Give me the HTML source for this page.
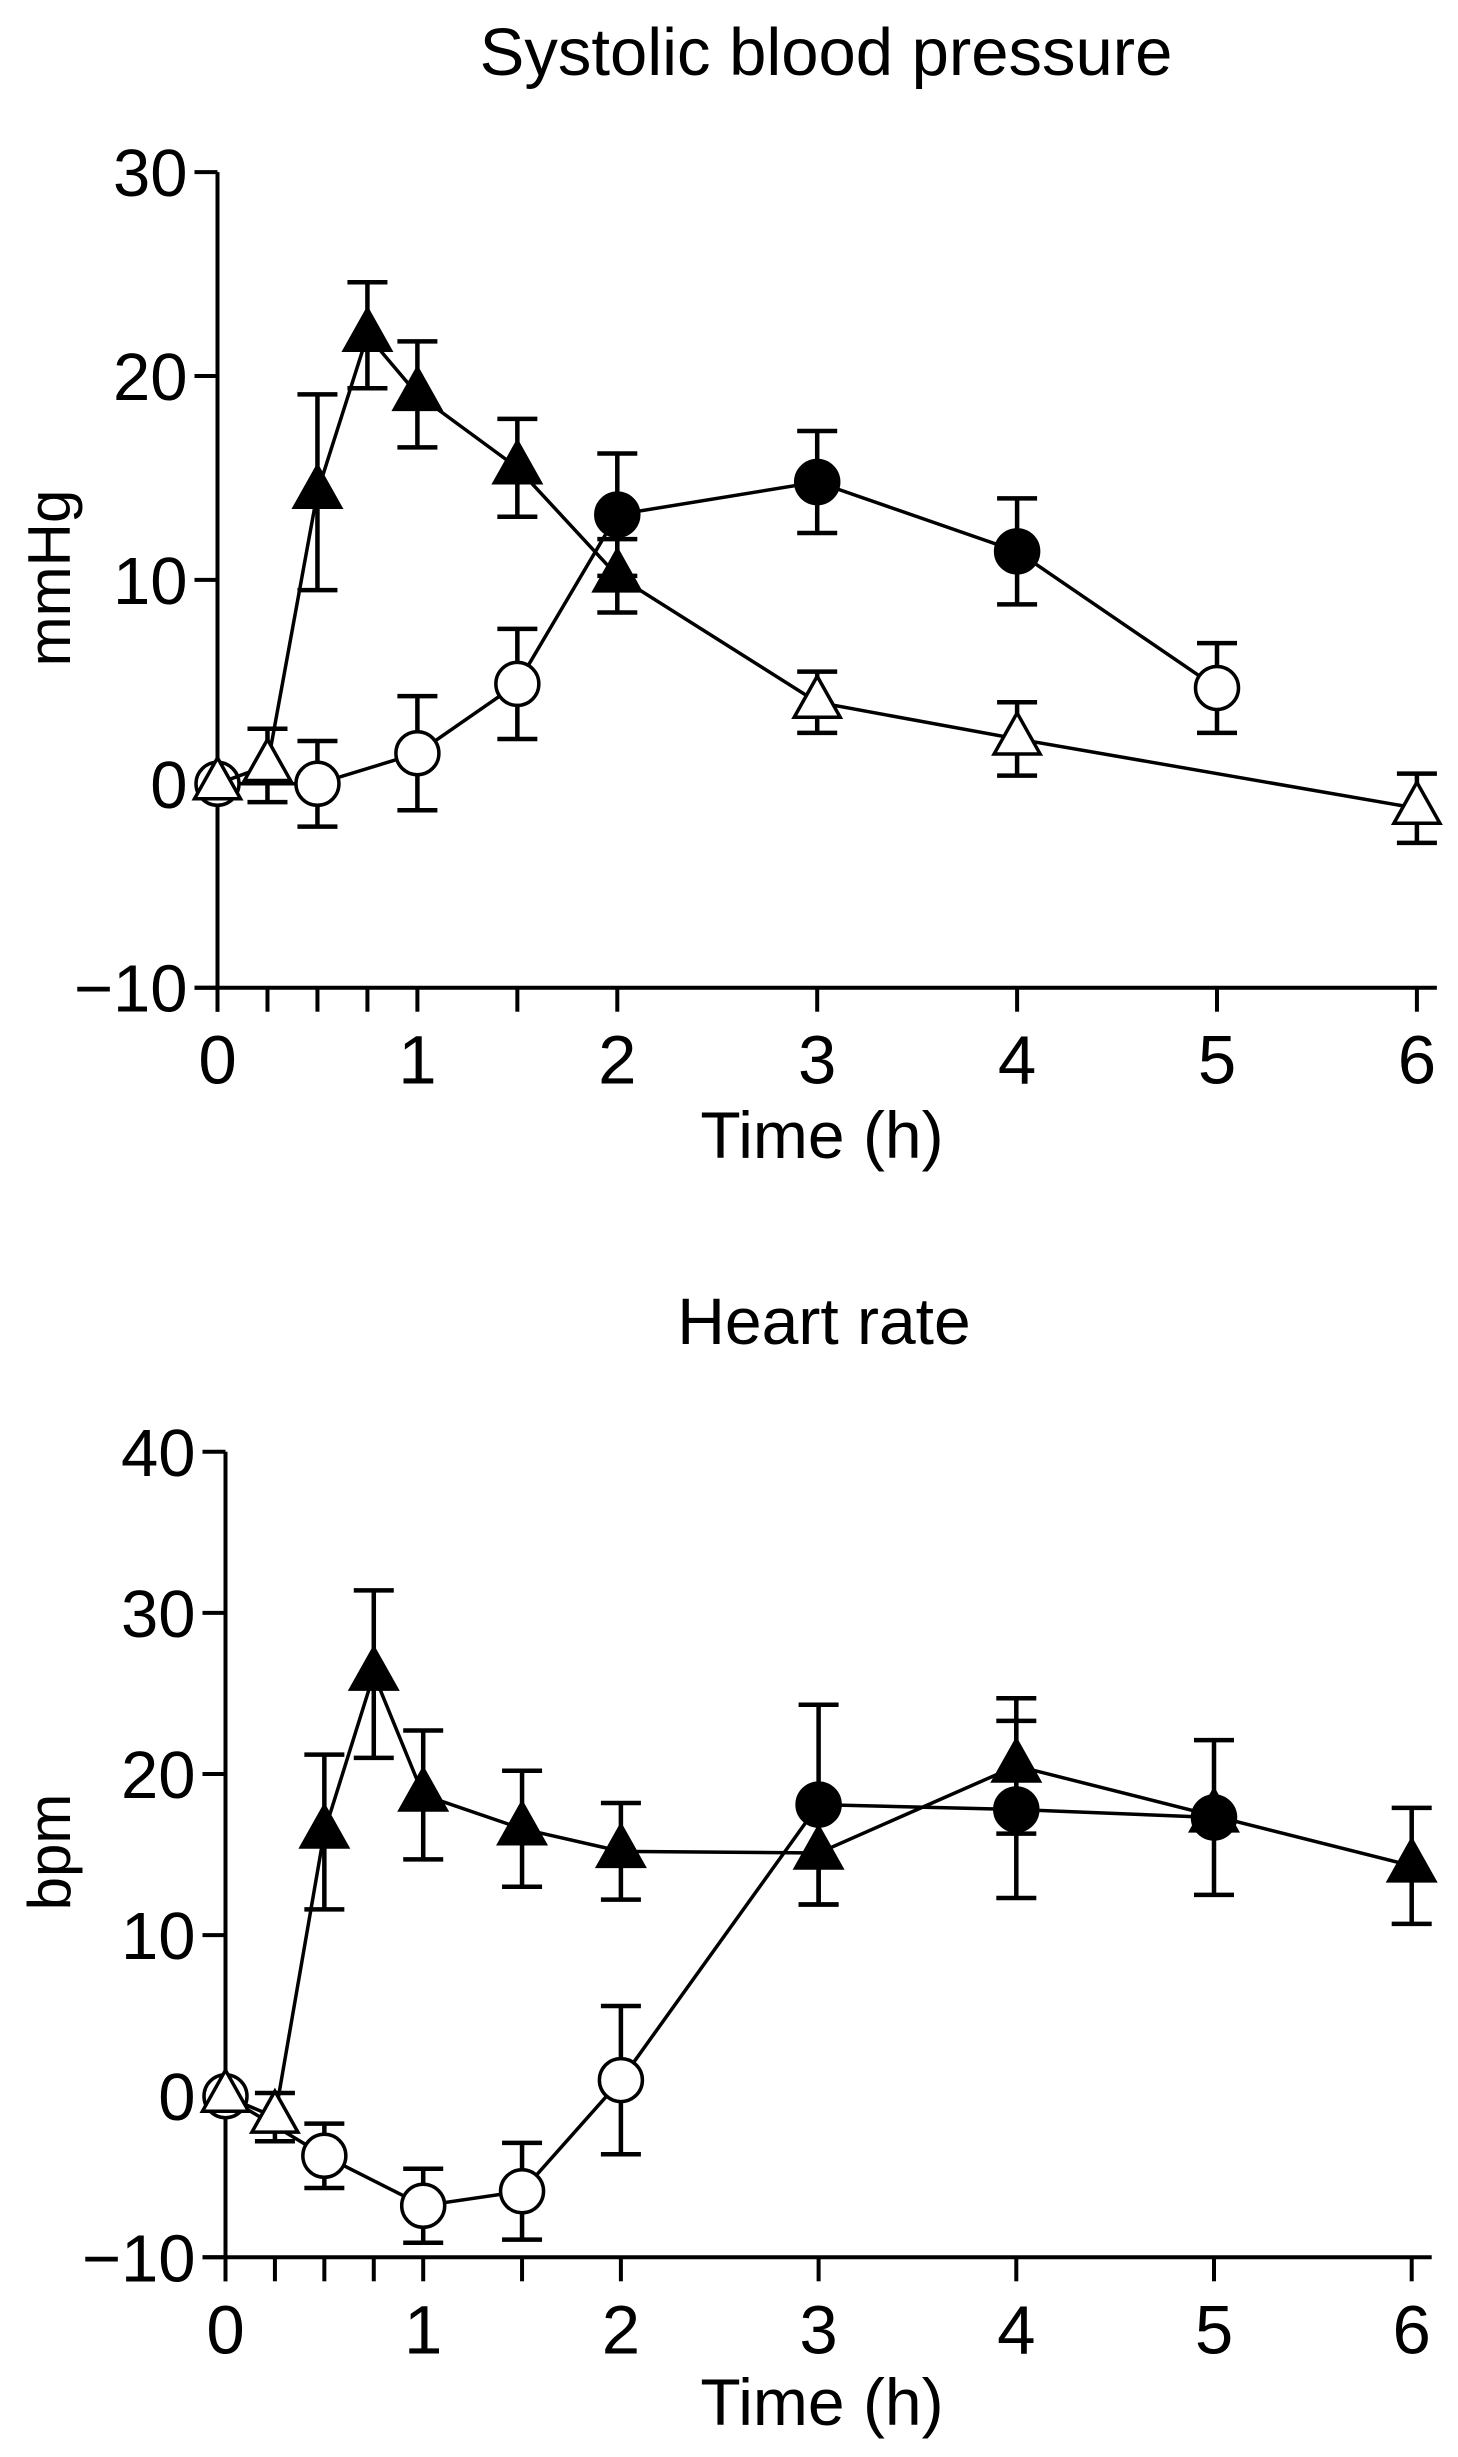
<!DOCTYPE html>
<html><head><meta charset="utf-8"><style>
html,body{margin:0;padding:0;background:#fff;}
svg{display:block;font-family:"Liberation Sans",Arial,sans-serif;}
</style></head><body>
<svg id="fig" width="1458" height="2457" viewBox="0 0 1458 2457">
<text x="826" y="75" font-size="67" text-anchor="middle">Systolic blood pressure</text>
<text x="824" y="1344" font-size="66" text-anchor="middle">Heart rate</text>
<text x="822" y="1158" font-size="66" text-anchor="middle">Time (h)</text>
<text x="822" y="2425" font-size="66" text-anchor="middle">Time (h)</text>
<text transform="translate(70,578) rotate(-90)" font-size="60" text-anchor="middle">mmHg</text>
<text transform="translate(70,1852) rotate(-90)" font-size="60" text-anchor="middle">bpm</text>
<g id="top"></g>
<g id="bot"></g>
</svg>
<script>
// ---- Systolic blood pressure data ----
const sbpCircTimes = [0, 0.5, 1, 1.5, 2, 3, 4, 5];
const sbpCircVals  = [0, 0, 1.5, 4.9, 13.2, 14.8, 11.4, 4.7];
const sbpCircErr   = [0, 2.1, 2.8, 2.7, 3.0, 2.5, 2.6, 2.2];
const sbpCircFill  = [0, 0, 0, 0, 1, 1, 1, 0];
const sbpTriTimes  = [0, 0.25, 0.5, 0.75, 1, 1.5, 2, 3, 4, 6];
const sbpTriVals   = [0, 0.9, 14.3, 22.0, 19.1, 15.5, 10.2, 4.0, 2.2, -1.2];
const sbpTriErr    = [0, 1.8, 4.8, 2.6, 2.6, 2.4, 1.8, 1.5, 1.8, 1.7];
const sbpTriFill   = [0, 0, 1, 1, 1, 1, 1, 0, 0, 0];
const sbpYTicks    = [30, 20, 10, 0, -10];
// ---- Heart rate data ----
const hrCircTimes = [0, 0.5, 1, 1.5, 2, 3, 4, 5];
const hrCircVals  = [0, -3.7, -6.8, -5.9, 1.0, 18.1, 17.8, 17.3];
const hrCircErr   = [0, 2.0, 2.3, 3.0, 4.6, 6.2, 5.5, 4.8];
const hrCircFill  = [0, 0, 0, 0, 0, 1, 1, 1];
const hrTriTimes  = [0, 0.25, 0.5, 0.75, 1, 1.5, 2, 3, 4, 5, 6];
const hrTriVals   = [0, -1.3, 16.4, 26.2, 18.7, 16.6, 15.2, 15.1, 20.5, 17.4, 14.3];
const hrTriErr    = [0, 1.5, 4.8, 5.2, 4.0, 3.6, 3.0, 3.2, 4.2, 0, 3.6];
const hrTriFill   = [0, 0, 1, 1, 1, 1, 1, 1, 1, 1, 1];
const hrYTicks    = [40, 30, 20, 10, 0, -10];
const xTickVals   = [0, 0.25, 0.5, 0.75, 1, 1.5, 2, 3, 4, 5, 6];
const xLabelVals  = [0, 1, 2, 3, 4, 5, 6];

const NS = 'http://www.w3.org/2000/svg';
function mk(parent, tag, attrs) {
  const e = document.createElementNS(NS, tag);
  for (const k in attrs) e.setAttribute(k, attrs[k]);
  parent.appendChild(e);
  return e;
}
function drawChart(g, cfg) {
  const xs = t => cfg.x0 + t * cfg.xs;
  const ys = v => cfg.yBase - (v - cfg.ymin) * cfg.yk;
  const yTop = ys(cfg.ymax), yBot = ys(cfg.ymin);
  let a = mk(g, 'line', {x1: xs(0), y1: yTop, x2: xs(0), y2: yBot + 24, stroke: '#000', 'stroke-width': 4});
  
  
  a = mk(g, 'line', {x1: xs(0) - 23, y1: yBot, x2: xs(6) + 20, y2: yBot, stroke: '#000', 'stroke-width': 4});
  
  
  cfg.yTicks.forEach(v => {
    const t = mk(g, 'line', {x1: xs(0) - 23, y1: ys(v), x2: xs(0), y2: ys(v), stroke: '#000', 'stroke-width': 4});
    
    
    const l = mk(g, 'text', {x: xs(0) - 30, y: ys(v) + 24, 'font-size': 67, 'text-anchor': 'end'});
    l.textContent = v < 0 ? '\u2212' + Math.abs(v) : String(v);
    
    
  });
  xTickVals.forEach(v => {
    const t = mk(g, 'line', {x1: xs(v), y1: yBot, x2: xs(v), y2: yBot + 24, stroke: '#000', 'stroke-width': 4});
    
    
  });
  xLabelVals.forEach(v => {
    const l = mk(g, 'text', {x: xs(v), y: yBot + 96, 'font-size': 69, 'text-anchor': 'middle'});
    l.textContent = String(v);
    
    
  });
  function series(times, vals, errs, fills, kind) {
    const pts = times.map((t, i) => xs(t) + ',' + ys(vals[i])).join(' ');
    const pl = mk(g, 'polyline', {points: pts, fill: 'none', stroke: '#000', 'stroke-width': 3.5});
    
    
    times.forEach((t, i) => {
      const x = xs(t), y = ys(vals[i]), e = errs[i] * cfg.yk;
      if (errs[i] > 0) {
        const eb = mk(g, 'path', {d: `M${x},${y - e}V${y + e}M${x - 20},${y - e}H${x + 20}M${x - 20},${y + e}H${x + 20}`, stroke: '#000', 'stroke-width': 4.5, fill: 'none'});
        
        
      }
    });
    times.forEach((t, i) => {
      const x = xs(t), y = ys(vals[i]);
      const col = fills[i] ? '#000' : '#fff';
      let m;
      if (kind === 'circle') {
        m = mk(g, 'circle', {cx: x, cy: y, r: 21.5, fill: col, stroke: '#000', 'stroke-width': 3.5});
      } else {
        m = mk(g, 'polygon', {points: `${x},${y - 26} ${x - 23},${y + 15} ${x + 23},${y + 15}`, fill: col, stroke: '#000', 'stroke-width': 3.5});
      }
      
      
    });
  }
  series(cfg.cT, cfg.cV, cfg.cE, cfg.cF, 'circle');
  series(cfg.tT, cfg.tV, cfg.tE, cfg.tF, 'triangle');
}
drawChart(document.getElementById('top'), {
  x0: 217.5, xs: 199.9, yBase: 987.7, ymin: -10, ymax: 30, yk: 20.39, yTicks: sbpYTicks,
  cT: sbpCircTimes, cV: sbpCircVals, cE: sbpCircErr, cF: sbpCircFill,
  tT: sbpTriTimes, tV: sbpTriVals, tE: sbpTriErr, tF: sbpTriFill
});
drawChart(document.getElementById('bot'), {
  x0: 225.5, xs: 197.7, yBase: 2257.3, ymin: -10, ymax: 40, yk: 16.11, yTicks: hrYTicks,
  cT: hrCircTimes, cV: hrCircVals, cE: hrCircErr, cF: hrCircFill,
  tT: hrTriTimes, tV: hrTriVals, tE: hrTriErr, tF: hrTriFill
});
</script>
</body></html>
